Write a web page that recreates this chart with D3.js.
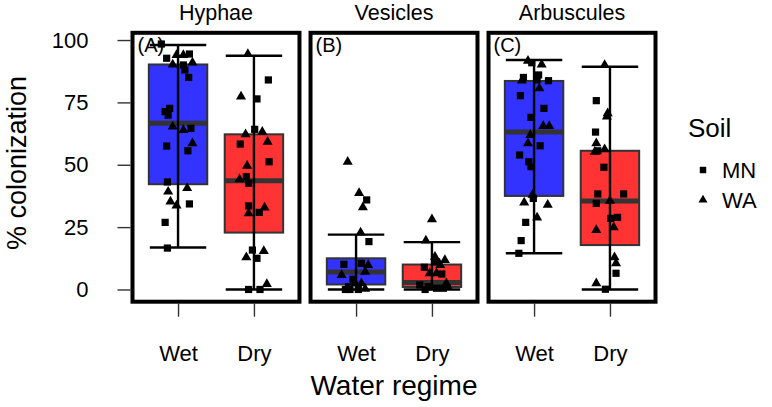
<!DOCTYPE html>
<html>
<head>
<meta charset="utf-8">
<script src="https://cdn.jsdelivr.net/npm/d3@7"></script>
<style>
  body { margin: 0; background: #fff; }
  text { font-family: "Liberation Sans", Arial, sans-serif; fill: #000; }
</style>
</head>
<body>
<script>
// panels, categories, ticks
const panels = ['Hyphae', 'Vesicles', 'Arbuscules']
const panelTags = ['(A)', '(B)', '(C)']
const regimes = ['Wet', 'Dry']
const soils = ['MN', 'WA']
const yTicks = [0, 25, 50, 75, 100]

// box stats: [lower whisker, q1, median, q3, upper whisker]
const hyphaeStats = [[16.8, 42.2, 66.6, 90.2, 98], [0, 22.8, 43.6, 62.2, 93.7]]
const vesiclesStats = [[0, 2, 7, 12.5, 22], [0, 1, 2.8, 10, 19]]
const arbusculesStats = [[14.5, 37.5, 63.1, 83.6, 92], [0, 17.8, 35.5, 55.6, 89.3]]

// jittered points: [value, soil, jitter (fraction of category step)]
const hyphaeWet = [
  [98.4, 'MN', -0.22], [92.7, 'MN', -0.15], [94, 'WA', -0.02], [94, 'WA', 0.07], [94.4, 'MN', 0.15],
  [90.2, 'WA', -0.07], [90, 'MN', 0.07], [91, 'WA', 0.19], [88, 'MN', 0.09], [85, 'MN', 0.14],
  [71.3, 'MN', -0.17], [72.6, 'MN', -0.11], [69.9, 'MN', -0.13], [65.3, 'WA', -0.07], [63.9, 'WA', 0.07],
  [64.6, 'MN', 0.17], [57.5, 'MN', -0.15], [58.6, 'WA', 0.19], [55.6, 'MN', 0.13], [43.1, 'MN', -0.14],
  [39.2, 'WA', -0.13], [40.6, 'WA', 0.12], [35.2, 'WA', -0.1], [33.6, 'WA', -0.02], [34.3, 'MN', 0.15],
  [26.9, 'MN', -0.17], [16.6, 'MN', -0.14]
]
const hyphaeDry = [
  [94.4, 'WA', -0.08], [84, 'MN', 0.19], [77.3, 'WA', -0.17], [76.4, 'MN', 0.04], [64.2, 'MN', 0.01],
  [62.2, 'WA', -0.11], [63.2, 'WA', 0.11], [58.3, 'MN', -0.18], [59.2, 'WA', 0.18], [51.2, 'MN', 0.2],
  [49.6, 'WA', -0.09], [45.2, 'MN', -0.1], [44.2, 'WA', -0.19], [42.6, 'MN', -0.07], [33.5, 'MN', -0.07],
  [30.5, 'WA', -0.07], [30.9, 'MN', 0.07], [32.8, 'WA', 0.14], [15.8, 'MN', -0.02], [15.4, 'WA', 0.13],
  [12.9, 'WA', -0.1], [12.5, 'MN', 0.04], [0, 'MN', -0.07], [0, 'MN', 0.08], [2.2, 'WA', 0.17]
]
const vesiclesWet = [
  [51.2, 'WA', -0.11], [38.6, 'WA', 0.04], [35.9, 'MN', 0.14], [32.9, 'WA', 0.09], [22.8, 'WA', 0.06],
  [19.2, 'MN', 0.17], [10.1, 'MN', -0.16], [10.5, 'MN', 0.07], [9.8, 'WA', 0.16], [7.1, 'WA', 0.12],
  [5.8, 'WA', -0.19], [4.1, 'MN', -0.04], [1.1, 'MN', -0.1], [2.5, 'WA', -0.01], [2.5, 'WA', 0.07],
  [0, 'MN', -0.08], [0, 'MN', 0.03], [0.3, 'WA', 0.12], [0, 'MN', -0.14]
]
const vesiclesDry = [
  [28.1, 'WA', 0], [19.6, 'WA', -0.08], [13.1, 'WA', 0.04], [11.1, 'MN', 0.06], [11.8, 'WA', 0.17],
  [9.8, 'WA', 0.11], [8.9, 'MN', -0.1], [6.5, 'WA', -0.03], [6.5, 'WA', 0.06], [6.2, 'MN', 0.13],
  [2.5, 'WA', 0.19], [1.8, 'MN', -0.16], [1.1, 'MN', -0.05], [0.5, 'MN', 0.06], [0.5, 'MN', 0.15],
  [1, 'WA', 0.21], [0, 'MN', -0.09]
]
const arbusculesWet = [
  [91.7, 'WA', -0.08], [90.9, 'MN', -0.03], [90.2, 'WA', 0.1], [85, 'MN', -0.14], [83.7, 'WA', -0.16],
  [86, 'MN', 0.06], [84, 'MN', 0.04], [83.7, 'MN', 0.19], [80.6, 'WA', 0.07], [77.7, 'MN', -0.18],
  [72.6, 'MN', 0.13], [69, 'MN', -0.04], [65.5, 'WA', 0.12], [65.5, 'WA', 0.2], [61.9, 'WA', -0.05],
  [58.6, 'WA', -0.08], [57.6, 'MN', 0.08], [53.9, 'MN', -0.19], [51.2, 'MN', -0.07], [49.2, 'MN', -0.04],
  [37.9, 'WA', -0.02], [36.5, 'MN', -0.01], [34.8, 'WA', -0.13], [33.9, 'WA', 0.18], [28.8, 'WA', 0.04],
  [26.9, 'MN', -0.11], [19.6, 'MN', -0.17], [14.5, 'MN', -0.2]
]
const arbusculesDry = [
  [90, 'WA', -0.07], [75.7, 'MN', -0.18], [70.6, 'WA', -0.03], [69.3, 'WA', -0.04], [63.1, 'MN', -0.19],
  [58.6, 'WA', -0.18], [55.2, 'WA', -0.2], [55.6, 'MN', -0.16], [56.2, 'WA', -0.07], [49, 'MN', -0.08],
  [38.3, 'MN', -0.16], [38.3, 'MN', 0.18], [35.5, 'WA', 0], [34.5, 'MN', -0.18], [28.5, 'MN', 0.01],
  [28.9, 'MN', 0.1], [24.9, 'WA', 0.05], [23.8, 'WA', -0.18], [12.9, 'WA', 0.06], [10.5, 'WA', 0.08],
  [6.5, 'MN', 0.08], [2.5, 'WA', -0.18], [0.1, 'MN', -0.06]
]

const panelStats = [hyphaeStats, vesiclesStats, arbusculesStats]
const panelPoints = [[hyphaeWet, hyphaeDry], [vesiclesWet, vesiclesDry], [arbusculesWet, arbusculesDry]]
const fills = { Wet: '#3333ff', Dry: '#ff3333' }

const w = 772, h = 407

const svg = d3.select('body').append('svg')
  .attr('width', w)
  .attr('height', h)

// scales
const px = d3.scaleBand().domain(panels).range([132.5, 655.5]).paddingInner(0.062)
const y = d3.scaleLinear().domain([-4.9, 102.9]).range([301.7, 32.8])
const shape = d3.scaleOrdinal().domain(soils).range([d3.symbolSquare, d3.symbolTriangle])
const shapeSize = d3.scaleOrdinal().domain(soils).range([52, 44])

// y axis
const yAxis = svg.append('g')
  .attr('transform', `translate(${px(panels[0]) - 2},0)`)
  .call(d3.axisLeft(y).tickValues(yTicks).tickSize(13).tickPadding(29))
yAxis.select('.domain').remove()
yAxis.selectAll('line').attr('stroke', '#333').attr('stroke-width', 1.4)
yAxis.selectAll('text').attr('font-size', 22).attr('fill', '#000')
  .style('font-family', '"Liberation Sans", Arial, sans-serif')

panels.forEach((name, i) => {
  const x0 = px(name), bw = px.bandwidth()
  const x = d3.scalePoint().domain(regimes).range([x0, x0 + bw]).padding(0.6)
  const step = x.step()
  const boxW = step * 0.77
  const g = svg.append('g')

  // strip title
  svg.append('text')
    .attr('x', x0 + bw / 2).attr('y', 20)
    .attr('text-anchor', 'middle').attr('font-size', 21.5)
    .text(name)

  // x axis
  const xAxis = svg.append('g')
    .attr('transform', `translate(0,${y.range()[0] + 2})`)
    .call(d3.axisBottom(x).tickSize(13).tickPadding(29))
  xAxis.select('.domain').remove()
  xAxis.selectAll('line').attr('stroke', '#333').attr('stroke-width', 1.4)
  xAxis.selectAll('text').attr('font-size', 22).attr('fill', '#000')
    .style('font-family', '"Liberation Sans", Arial, sans-serif')

  regimes.forEach((r, j) => {
    const s = panelStats[i][j]
    const cx = x(r)

    // box
    g.append('rect')
      .attr('x', cx - boxW / 2).attr('width', boxW)
      .attr('y', y(s[3])).attr('height', y(s[1]) - y(s[3]))
      .attr('fill', fills[r]).attr('stroke', '#333').attr('stroke-width', 2)
    g.append('line')
      .attr('x1', cx - boxW / 2).attr('x2', cx + boxW / 2)
      .attr('y1', y(s[2])).attr('y2', y(s[2]))
      .attr('stroke', '#333').attr('stroke-width', 5)

    // whisker line + caps
    g.append('line')
      .attr('x1', cx).attr('x2', cx)
      .attr('y1', y(s[0])).attr('y2', y(s[4]))
      .attr('stroke', '#000').attr('stroke-width', 2.4)
    g.selectAll(null)
      .data([s[0], s[4]])
      .enter()
      .append('line')
      .attr('x1', cx - boxW / 2 + 1).attr('x2', cx + boxW / 2 - 1)
      .attr('y1', d => y(d)).attr('y2', d => y(d))
      .attr('stroke', '#000').attr('stroke-width', 2.4)

    // jittered points
    g.selectAll(null)
      .data(panelPoints[i][j])
      .enter()
      .append('path')
      .attr('d', d => d3.symbol(shape(d[1]), shapeSize(d[1]))())
      .attr('transform', d => `translate(${cx + d[2] * step},${y(d[0])})`)
      .attr('fill', '#000')
  })

  // panel tag and border
  svg.append('text')
    .attr('x', x0 + 5).attr('y', 52)
    .attr('font-size', 20)
    .text(panelTags[i])
  svg.append('rect')
    .attr('x', x0).attr('y', y.range()[1])
    .attr('width', bw).attr('height', y.range()[0] - y.range()[1])
    .attr('fill', 'none').attr('stroke', '#000').attr('stroke-width', 4)
})

// axis titles
svg.append('text')
  .attr('x', px(panels[1]) + px.bandwidth() / 2).attr('y', 395)
  .attr('text-anchor', 'middle').attr('font-size', 28)
  .text('Water regime')
svg.append('text')
  .attr('transform', 'translate(26,163) rotate(-90)')
  .attr('text-anchor', 'middle').attr('font-size', 27)
  .text('% colonization')

// legend
const legend = svg.append('g').attr('transform', 'translate(683,0)')
legend.append('text').attr('x', 5).attr('y', 137).attr('font-size', 26).text('Soil')
const items = legend.selectAll('g.item')
  .data(soils)
  .enter()
  .append('g')
  .attr('class', 'item')
  .attr('transform', (d, i) => `translate(0,${170 + i * 30})`)
items.append('path')
  .attr('d', d => d3.symbol(shape(d), shapeSize(d) * 0.8)())
  .attr('transform', 'translate(20,0)')
  .attr('fill', '#000')
items.append('text')
  .attr('x', 39).attr('y', 8)
  .attr('font-size', 22)
  .text(d => d)
</script>
</body>
</html>
